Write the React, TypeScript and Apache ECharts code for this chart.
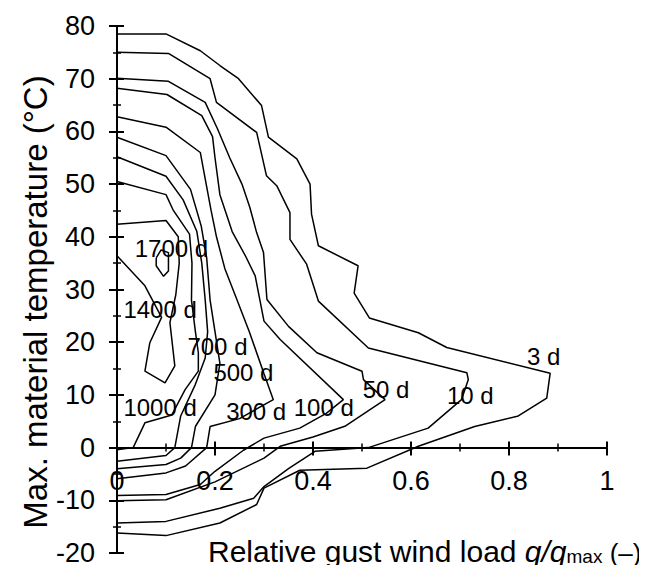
import React, { useEffect, useRef } from "react";
import * as echarts from "echarts";

const FONT = "'Liberation Sans', Arial, Helvetica, sans-serif";

// contour lines [x = q/qmax, y = temperature °C]
const c3d = [[0,78.5],[0.1,78.5],[0.17,75.3],[0.21,72.5],[0.248,70],[0.295,64.9],[0.309,58.9],[0.367,54.8],[0.394,50],[0.397,44.3],[0.411,38.3],[0.492,34.5],[0.484,29.3],[0.515,24.6],[0.615,21.8],[0.673,19],[0.884,14.1],[0.877,9.4],[0.819,6],[0.73,4],[0.615,0.25],[0.51,-3.9],[0.373,-4.3],[0.3,-7.7],[0.285,-10.8],[0.21,-14.3],[0.1,-16.7],[0,-16.2]];
const c10d = [[0,75],[0.105,74.8],[0.19,70],[0.203,65.5],[0.285,59.8],[0.305,51.6],[0.326,49.7],[0.353,44.6],[0.353,39.5],[0.387,34.8],[0.411,27.8],[0.513,18.9],[0.714,14.2],[0.717,12.9],[0.703,9.1],[0.635,3.7],[0.513,0],[0.404,-0.7],[0.35,-4],[0.3,-7.4],[0.279,-9.6],[0.21,-11.5],[0.1,-14],[0,-14.3]];
const c50d = [[0,70.1],[0.105,69.5],[0.18,65.5],[0.205,60.5],[0.23,55],[0.255,50],[0.271,45.6],[0.285,40.8],[0.299,37],[0.306,28.1],[0.35,23],[0.408,18],[0.5,14.5],[0.503,12.9],[0.547,9.1],[0.465,4.05],[0.4,2],[0.333,0.25],[0.3,-2],[0.2,-6.5],[0.1,-9.9],[0,-10.1]];
const c100d = [[0,68.2],[0.102,67],[0.173,63],[0.195,59],[0.2,55],[0.21,48],[0.235,41],[0.262,36.4],[0.282,32.6],[0.3,24],[0.333,20.5],[0.462,9.1],[0.427,6.5],[0.373,3.7],[0.3,1.8],[0.258,-0.5],[0.2,-4.5],[0.17,-7],[0.1,-8.9],[0,-9.1]];
const c300d = [[0,62.8],[0.1,60.8],[0.17,56],[0.182,50],[0.192,45],[0.203,40],[0.22,34],[0.245,28],[0.27,22],[0.3,14],[0.319,9.1],[0.25,5.5],[0.19,4],[0.183,0],[0.14,-3.5],[0.1,-4.8],[0,-5.9]];
const c500d = [[0,58.9],[0.1,55.4],[0.15,49],[0.172,42],[0.183,36],[0.19,28],[0.2,22],[0.21,16],[0.2,10],[0.16,4],[0.152,0],[0.13,-2],[0.1,-3.2],[0,-4]];
const c700d = [[0,55.2],[0.1,51.5],[0.135,47],[0.163,41],[0.173,35],[0.18,28],[0.185,22],[0.18,17],[0.16,12],[0.13,6],[0.118,0],[0.1,-1.5],[0,-2.6]];
const c1000d = [[0,50.5],[0.1,48],[0.115,45],[0.148,40.5],[0.153,35],[0.152,28],[0.16,22],[0.166,18],[0.166,14.5],[0.139,11],[0.112,6.2],[0.057,4.7],[0.033,0],[0,-0.4]];
const c1400d = [[0,42.4],[0.1,43.1],[0.125,40],[0.127,35],[0.12,29],[0.108,23.7],[0.118,15.5],[0.098,12.3],[0.057,14.5],[0.067,19.9],[0.091,24.7],[0.057,30.7],[0,36.4]];
const c1700d = [[0.08,36],[0.09,37.5],[0.105,37],[0.105,33.5],[0.095,32.5],[0.08,34.5],[0.08,36]];

const contourLines = [c3d, c10d, c50d, c100d, c300d, c500d, c700d, c1000d, c1400d, c1700d];

// contour labels [x, y, text]
const contourLabels = [
  [0.111, 37.8, "1700 d"],
  [0.088, 26.2, "1400 d"],
  [0.205, 19.2, "700 d"],
  [0.258, 14.3, "500 d"],
  [0.088, 7.6, "1000 d"],
  [0.284, 6.8, "300 d"],
  [0.422, 7.7, "100 d"],
  [0.549, 11, "50 d"],
  [0.721, 9.9, "10 d"],
  [0.871, 17.2, "3 d"],
];

const X_MIN = 0, X_MAX = 1, X_STEP = 0.2;
const Y_MIN = -20, Y_MAX = 80, Y_STEP = 10;

const yTitle = "Max. material temperature (°C)";
const xTitleParts = ["Relative gust wind load ", "q", "/", "q", "max", " (–)"];

export default function App() {
  const ref = useRef<HTMLDivElement>(null);
  useEffect(() => {
    if (!ref.current) return;
    const chart = echarts.init(ref.current, undefined, { renderer: "svg" });

    const H = 573;
    const L = 117, R = 40, T = 26, B = 20;
    const plotH = H - T - B;
    const zeroFrac = (Y_MAX - 0) / (Y_MAX - Y_MIN);
    const grid = { left: L, right: R, top: T, bottom: B, containLabel: false, outerBoundsMode: "none" };
    const gridX = { left: L, right: R, top: T, height: plotH * zeroFrac, containLabel: false, outerBoundsMode: "none" };

    const tickStyle = { color: "#000", width: 2 };
    const minorStyle = { color: "#000", width: 1.5 };

    const xBase = (gi: number) => ({
      type: "value", gridIndex: gi, min: X_MIN, max: X_MAX, interval: X_STEP,
      splitLine: { show: false },
    });
    const yBase = (gi: number) => ({
      type: "value", gridIndex: gi, min: Y_MIN, max: Y_MAX, interval: Y_STEP, position: "left",
      splitLine: { show: false },
    });

    const option: any = {
      animation: false,
      backgroundColor: "#fff",
      grid: [grid, grid, gridX, gridX],
      xAxis: [
        { ...xBase(0), show: false },
        { ...xBase(1), show: false },
        {
          ...xBase(2), position: "bottom",
          axisLine: { show: true, onZero: false, lineStyle: { color: "#000", width: 2 } },
          axisTick: { show: true, inside: false, length: 8, lineStyle: tickStyle },
          minorTick: { show: true, splitNumber: 2, length: 4, lineStyle: minorStyle },
          axisLabel: { show: true, color: "#000", fontSize: 27, fontFamily: FONT, margin: 20 },
        },
        {
          ...xBase(3), position: "bottom",
          axisLine: { show: false, onZero: false },
          axisTick: { show: true, inside: true, length: 6, lineStyle: tickStyle },
          minorTick: { show: true, splitNumber: 2, length: 4, lineStyle: minorStyle },
          axisLabel: { show: false },
        },
      ],
      yAxis: [
        {
          ...yBase(0),
          axisLine: { show: true, onZero: false, lineStyle: { color: "#000", width: 2 } },
          axisTick: { show: true, inside: false, length: 8, lineStyle: tickStyle },
          minorTick: { show: true, splitNumber: 2, length: 4, lineStyle: minorStyle },
          axisLabel: { show: true, color: "#000", fontSize: 27, fontFamily: FONT, margin: 22 },
        },
        {
          ...yBase(1),
          axisLine: { show: false, onZero: false },
          axisTick: { show: true, inside: true, length: 7, lineStyle: tickStyle },
          minorTick: { show: true, splitNumber: 2, length: 4, lineStyle: minorStyle },
          axisLabel: { show: false },
        },
        { type: "value", gridIndex: 2, min: 0, max: 1, show: false },
        { type: "value", gridIndex: 3, min: 0, max: 1, show: false },
      ],
      series: [
        ...contourLines.map((d) => ({
          type: "line",
          xAxisIndex: 0,
          yAxisIndex: 0,
          data: d,
          showSymbol: false,
          symbol: "none",
          lineStyle: { color: "#000", width: 1.5 },
          silent: true,
          z: 3,
        })),
        {
          type: "scatter",
          xAxisIndex: 0,
          yAxisIndex: 0,
          data: contourLabels,
          symbol: "circle",
          symbolSize: 0.1,
          itemStyle: { color: "#fff", opacity: 1 },
          silent: true,
          z: 5,
          label: {
            show: true,
            position: "inside",
            formatter: (p: any) => p.data[2],
            color: "#000",
            opacity: 1,
            textBorderWidth: 0,
            fontSize: 24,
            fontFamily: FONT,
          },
        },
      ],
      graphic: [
        {
          type: "text",
          x: 35,
          y: 302,
          rotation: Math.PI / 2,
          style: {
            text: yTitle,
            font: `33px ${FONT}`,
            fill: "#000",
            align: "center",
            verticalAlign: "middle",
          },
        },
        {
          type: "text",
          x: 208,
          y: 548,
          style: {
            text:
              `{n|${xTitleParts[0]}}{i|${xTitleParts[1]}}{i|${xTitleParts[2]}}{i|${xTitleParts[3]}}{s|${xTitleParts[4]}}{p|${xTitleParts[5]}}`,
            fill: "#000",
            align: "left",
            verticalAlign: "middle",
            rich: {
              n: { fontSize: 30, fontFamily: FONT, fill: "#000", lineHeight: 34, verticalAlign: "bottom" },
              i: { fontSize: 30, fontFamily: FONT, fontStyle: "italic", fill: "#000", lineHeight: 34, verticalAlign: "bottom" },
              s: { fontSize: 19, fontFamily: FONT, fill: "#000", lineHeight: 24, verticalAlign: "bottom" },
              p: { fontSize: 26, fontFamily: FONT, fill: "#000", lineHeight: 36, verticalAlign: "bottom" },
            },
          },
        },
      ],
    };
    chart.setOption(option);
    return () => chart.dispose();
  }, []);
  return <div ref={ref} style={{ width: 647, height: 573, margin: -8 }} />;
}
